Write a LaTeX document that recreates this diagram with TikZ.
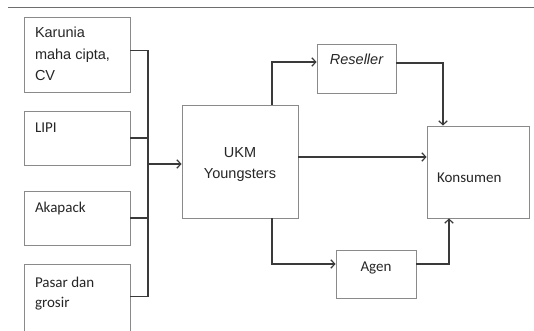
\documentclass[tikz,border=0pt]{standalone}
\usepackage{fontspec}
\setmainfont{Liberation Sans}
\newfontfamily\calfont{Carlito}
\usetikzlibrary{arrows.meta}
\definecolor{boxgray}{HTML}{8A8A8A}
\definecolor{conngray}{HTML}{3A3A3A}
\definecolor{rulegray}{HTML}{6E6E6E}
\definecolor{txt}{HTML}{262626}
% \lbox{font}{W}{H}{first baseline}{left pad}{text}
\newcommand\lbox[6]{\parbox[c][#3][t]{#2}{#1\raggedright\leftskip=#5\relax\rule{0pt}{#4}#6\par}}
% \cbox{font}{W}{H}{first baseline}{text}
\newcommand\cbox[5]{\parbox[c][#3][t]{#2}{#1\centering\rule{0pt}{#4}#5\par}}
\newcommand\arialf{\fontsize{14.5}{21.5}\selectfont}
\newcommand\calf{\calfont\fontsize{15}{20}\selectfont}
\tikzset{
  boxnode/.style={draw=boxgray, line width=0.8pt, inner sep=0pt, text=txt},
  conn/.style={draw=conngray, line width=1.2pt},
  arr/.style={conn, -{Straight Barb[length=4pt,width=8.5pt,line width=1.2pt]}},
}
\begin{document}
\begin{tikzpicture}[x=1pt,y=-1pt]
\useasboundingbox (0,0) rectangle (534,331);
\clip (0,0) rectangle (534,331);
\fill[white] (0,0) rectangle (534,331);
% top rule
\coordinate (rl) at (8,7.3);
\coordinate (rr) at (534,7.3);
\draw[draw=rulegray, line width=1pt] (rl) -- (rr);
% boxes
\node[boxnode] (karunia) at (77,54.5) {\lbox{\arialf}{106pt}{75pt}{21pt}{11pt}{Karunia\\maha cipta,\\CV}};
\node[boxnode] (lipi) at (77,138) {\lbox{\calf}{106pt}{54pt}{21pt}{11pt}{LIPI}};
\node[boxnode] (akapack) at (77,218) {\lbox{\calf}{106pt}{54pt}{21pt}{11pt}{Akapack}};
\node[boxnode] (pasar) at (77,304.5) {\lbox{\calf}{106pt}{80pt}{23pt}{11pt}{Pasar dan\\grosir}};
\node[boxnode] (ukm) at (240,161.5) {\cbox{\fontsize{14.5}{20}\selectfont}{116pt}{113pt}{53pt}{UKM\\Youngsters}};
\node[boxnode] (reseller) at (356.5,68.5) {\cbox{\arialf\itshape}{79pt}{49pt}{21pt}{Reseller}};
\node[boxnode] (agen) at (376,274) {\cbox{\calf}{80pt}{48pt}{21pt}{Agen}};
\node[boxnode] (konsumen) at (478,172) {\lbox{\calf}{102pt}{92pt}{56pt}{10pt}{Konsumen}};
% bus
\coordinate (bus) at (148,164);
\draw[conn] ([yshift=4pt]karunia.east) -| (bus);
\draw[conn] (lipi.east) -| (bus);
\draw[conn] (akapack.east) -| (bus);
\draw[conn] ([yshift=-32.5pt]pasar.north east) -| (bus);
\draw[arr] (bus) -- (ukm.west |- bus);
% from UKM
\draw[arr] ([xshift=32pt]ukm.north) |- ([yshift=6.5pt]reseller.west);
\draw[arr] ([xshift=32pt]ukm.south) |- ([yshift=10pt]agen.west);
\coordinate (ukmout) at ([yshift=4.5pt]ukm.east);
\draw[arr] (ukmout) -- (konsumen.west |- ukmout);
% to Konsumen
\draw[arr] ([yshift=5.5pt]reseller.east) -| ([xshift=-35pt]konsumen.north);
\draw[arr] ([yshift=10pt]agen.east) -| ([xshift=-29pt]konsumen.south);
\end{tikzpicture}
\end{document}
